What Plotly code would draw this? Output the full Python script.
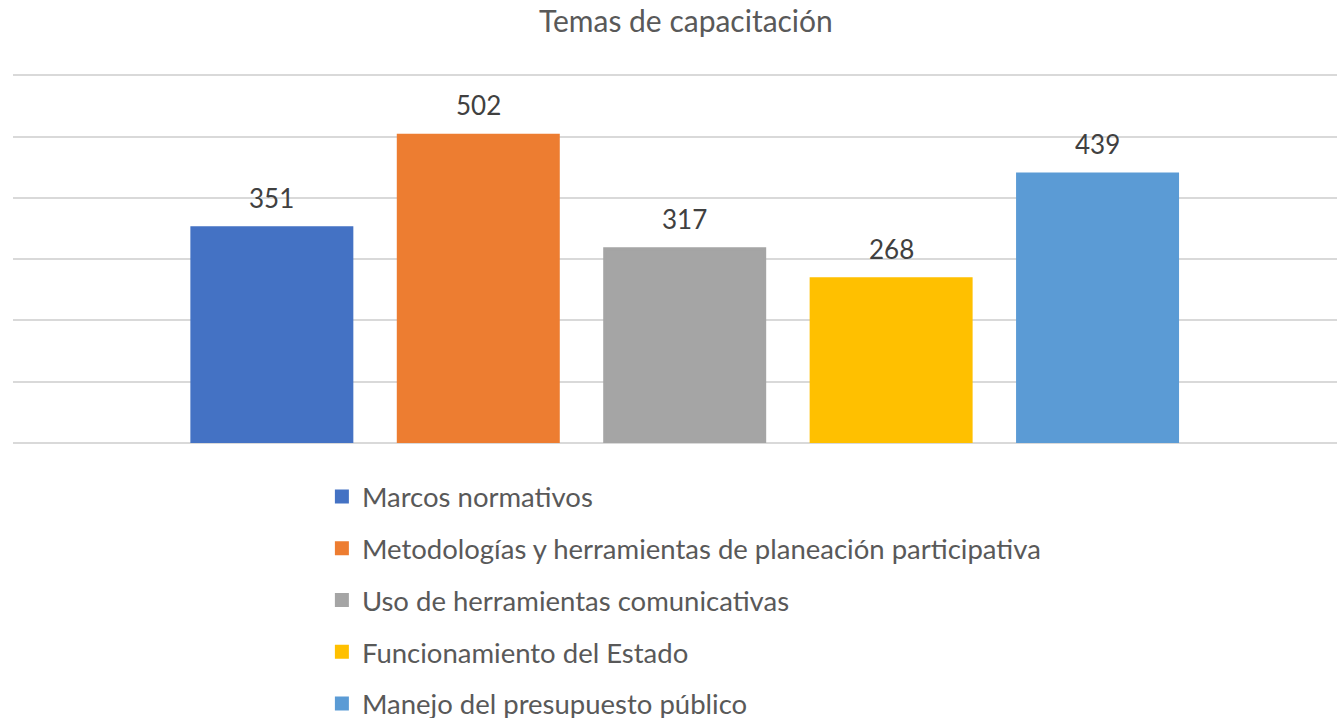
import plotly.graph_objects as go

title = "Temas de capacitación"
series_names = [
    "Marcos normativos",
    "Metodologías y herramientas de planeación participativa",
    "Uso de herramientas comunicativas",
    "Funcionamiento del Estado",
    "Manejo del presupuesto público",
]
values = [351, 502, 317, 268, 439]
colors = ["#4472C4", "#ED7D31", "#A5A5A5", "#FFC000", "#5B9BD5"]
y_ticks = [0, 100, 200, 300, 400, 500, 600]

FONT = "Lato"

fig = go.Figure()
for i, (name, val, col) in enumerate(zip(series_names, values, colors)):
    fig.add_trace(go.Bar(
        x=[name], y=[val], name=name,
        marker=dict(color=col, line=dict(color=col, width=3)),
        width=0.775, legendgroup=f"g{i}", showlegend=True,
        hoverinfo="name+y",
    ))
    fig.add_annotation(
        x=name, y=val, text=str(val), showarrow=False,
        yanchor="bottom", yshift=12,
        font=dict(family=FONT, size=26, color="#404040"),
    )

fig.update_layout(
    width=1337, height=718,
    paper_bgcolor="white", plot_bgcolor="white",
    margin=dict(l=13, r=0, t=74, b=275, autoexpand=False),
    barmode="overlay",
    title=dict(text=title, x=0.513, xanchor="center", y=0.97, yanchor="middle",
               font=dict(family=FONT, size=30, color="#595959")),
    xaxis=dict(range=[-1.254, 5.16], showticklabels=False, showgrid=False,
               zeroline=False, showline=False, fixedrange=True),
    yaxis=dict(range=[0, 602], tickvals=y_ticks, showticklabels=False,
               showgrid=True, gridcolor="#D9D9D9", gridwidth=1.5,
               zeroline=True, zerolinecolor="#D9D9D9", zerolinewidth=1.5,
               showline=False, fixedrange=True),
    legend=dict(orientation="v", x=0.2333, xanchor="left", y=-0.079, yanchor="top",
                font=dict(family=FONT, size=27.5, color="#595959"),
                tracegroupgap=13, itemsizing="constant", bgcolor="rgba(0,0,0,0)"),
    showlegend=True,
)

fig.write_html("out.html", config={"displayModeBar": False},
               post_script="document.body.style.margin='0px';")
